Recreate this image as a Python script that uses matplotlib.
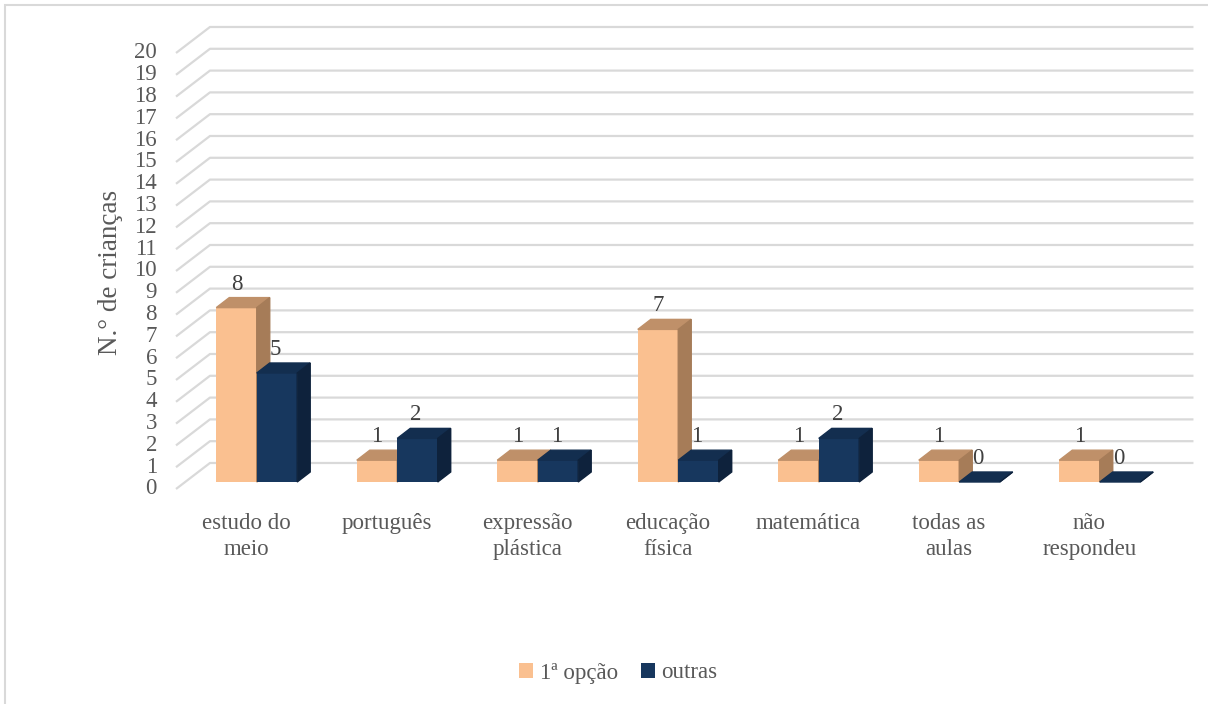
import numpy as np
import matplotlib.pyplot as plt
from matplotlib.patches import Polygon, Patch, Rectangle

# data
categories = ['estudo do\nmeio', 'português', 'expressão\nplástica', 'educação\nfísica',
              'matemática', 'todas as\naulas', 'não\nrespondeu']
primeira_opcao = [8, 1, 1, 7, 1, 1, 1]
outras = [5, 2, 1, 1, 2, 0, 0]
series_names = ['1ª opção', 'outras']
y_ticks = list(range(0, 21))

plt.rcParams['font.family'] = ['Liberation Serif', 'DejaVu Serif']
text_color = '#595959'
grid_color = '#d9d9d9'

# face colours: front, top, side
orange = ('#FAC090', '#BF9069', '#A67C58')
navy = ('#17375E', '#132E4F', '#0E223C')

fig = plt.figure(figsize=(12.08, 7.04), dpi=100)
ax = fig.add_axes([186.5 / 1208, 222 / 704, 983.5 / 1208, 436 / 704])
ax.set_xlim(-0.5, 6.5)
ax.set_ylim(0, 20)
ax.axis('off')

# pseudo 3d offsets (data units)
fx, fy = -0.0747, -0.321   # floor front edge, relative to bar front plane
bx, by = 0.167, 0.872      # back wall
dx, dy = 0.0925, 0.459     # bar depth
w = 0.288

# gridlines: side wall diagonal + back wall
for v in y_ticks:
    ax.plot([-0.5 + fx, -0.5 + bx, 6.5 + bx], [v + fy, v + by, v + by],
            color=grid_color, lw=1.6, zorder=1, clip_on=False, solid_capstyle='butt')
    ax.text(-0.71, v + fy, str(v), ha='right', va='center', fontsize=16.5,
            color=text_color)


def bar3d(x0, h, cols):
    front, top, side = cols
    ax.bar(x0, h, width=w, align='edge', color=front, zorder=3, clip_on=False)
    ax.add_patch(Polygon([(x0, h), (x0 + w, h), (x0 + w + dx, h + dy), (x0 + dx, h + dy)],
                         closed=True, color=top, zorder=3, clip_on=False))
    ax.add_patch(Polygon([(x0 + w, 0), (x0 + w + dx, dy), (x0 + w + dx, h + dy), (x0 + w, h)],
                         closed=True, color=side, zorder=3, clip_on=False))


for i in range(len(categories)):
    bar3d(i - w, primeira_opcao[i], orange)
    bar3d(i, outras[i], navy)
    ax.text(i - w / 2, primeira_opcao[i] + 1.08, str(primeira_opcao[i]), ha='center',
            va='center', fontsize=16.5, color='#404040', zorder=5)
    ax.text(i + w / 2 - 0.01, outras[i] + 1.08, str(outras[i]), ha='center',
            va='center', fontsize=16.5, color='#404040', zorder=5)
    ax.text(i + fx, -1.40, categories[i], ha='center', va='top', fontsize=16.5,
            color=text_color, linespacing=1.32)

ax.text(-1.044, 9.63, 'N.° de crianças', rotation=90, ha='center', va='center',
        fontsize=19.5, color=text_color)

handles = [Patch(facecolor=orange[0], label=series_names[0]),
           Patch(facecolor=navy[0], label=series_names[1])]
fig.legend(handles=handles, loc='center', bbox_to_anchor=(0.512, 1 - 673 / 704), ncol=2,
           frameon=False, fontsize=16.5, labelcolor=text_color, handlelength=0.6,
           handleheight=0.6, handletextpad=0.3, columnspacing=1.0)

# chart border
fig.patches.append(Rectangle((5 / 1208, -0.1), 1.2, 1.1 - 5 / 704, transform=fig.transFigure,
                             fill=False, edgecolor=grid_color, lw=1.5))

fig.savefig('out.png', dpi=100, facecolor='white')
